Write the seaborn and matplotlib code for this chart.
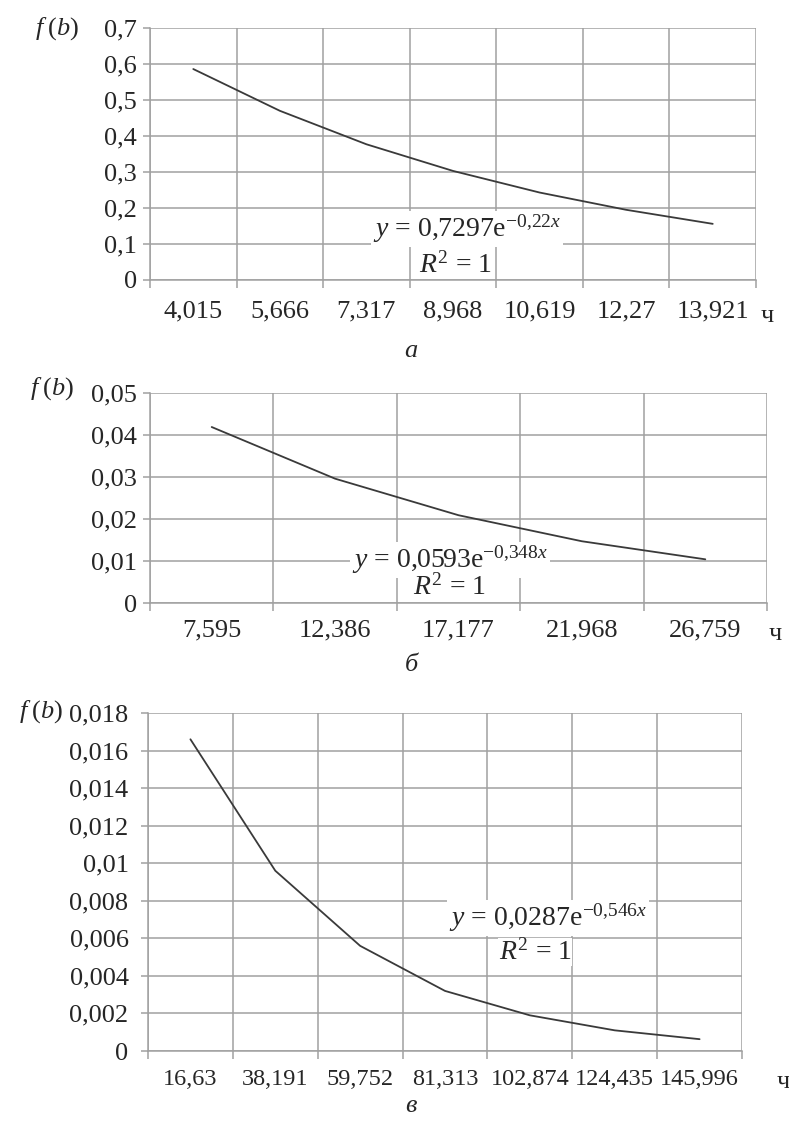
import numpy as np
import pandas as pd
import matplotlib
matplotlib.use("Agg")
import matplotlib.pyplot as plt
import seaborn as sns
from matplotlib.ticker import FixedLocator

# ---------------- data ----------------
a_labels = ["4,015", "5,666", "7,317", "8,968", "10,619", "12,27", "13,921"]
a_values = [0.586, 0.470, 0.377, 0.303, 0.243, 0.195, 0.156]
a_yticks = [0, 0.1, 0.2, 0.3, 0.4, 0.5, 0.6, 0.7]
a_yticklabels = ["0", "0,1", "0,2", "0,3", "0,4", "0,5", "0,6", "0,7"]

b_labels = ["7,595", "12,386", "17,177", "21,968", "26,759"]
b_values = [0.0419, 0.0296, 0.0209, 0.0147, 0.0104]
b_yticks = [0, 0.01, 0.02, 0.03, 0.04, 0.05]
b_yticklabels = ["0", "0,01", "0,02", "0,03", "0,04", "0,05"]

c_labels = ["16,63", "38,191", "59,752", "81,313", "102,874", "124,435", "145,996"]
c_values = [0.0166, 0.0096, 0.0056, 0.0032, 0.0019, 0.0011, 0.00063]
c_yticks = [0, 0.002, 0.004, 0.006, 0.008, 0.010, 0.012, 0.014, 0.016, 0.018]
c_yticklabels = ["0", "0,002", "0,004", "0,006", "0,008", "0,01", "0,012",
                 "0,014", "0,016", "0,018"]

eq_texts = [r"$y$ = 0,7297$\mathrm{e}^{-0{,}22x}$",
            r"$y$ = 0,0593$\mathrm{e}^{-0{,}348x}$",
            r"$y$ = 0,0287$\mathrm{e}^{-0{,}546x}$"]
r2_text = r"$R^{2}$ = 1"
captions = ["а", "б", "в"]
ylabel_text = r"$f\;(b)$"
xunit_text = "ч"

# ---------------- style ----------------
sns.set_theme(style="white")
plt.rcParams['font.family'] = ['Liberation Serif', 'DejaVu Serif']
plt.rcParams['mathtext.fontset'] = 'custom'
plt.rcParams['mathtext.rm'] = 'Liberation Serif'
plt.rcParams['mathtext.it'] = 'Liberation Serif:italic'
plt.rcParams['mathtext.bf'] = 'Liberation Serif:bold'

W, H = 789, 1124
fig = plt.figure(figsize=(W / 100, H / 100), dpi=100)
fig.patch.set_facecolor('white')


def fx(x):
    return x / W


def fy(y):
    return 1 - y / H


GRID = '#a0a0a0'
LINE = '#3a3a3a'
FS = 19
EQFS = 20

panels = [
    dict(box=(150, 28, 756, 280), labels=a_labels, values=a_values,
         yticks=a_yticks, ylabels=a_yticklabels, xpad=15, ypad=4.5,
         xfs=FS, fb=(57, 29), eq=(467, 229), r2=(455, 265),
         unit=(767, 322), cap=(411, 351)),
    dict(box=(150, 393, 767, 603), labels=b_labels, values=b_values,
         yticks=b_yticks, ylabels=b_yticklabels, xpad=12, ypad=4.5,
         xfs=FS, fb=(52, 389), eq=(450, 560), r2=(449, 587),
         unit=(775, 640), cap=(411, 665)),
    dict(box=(148, 713, 742, 1051), labels=c_labels, values=c_values,
         yticks=c_yticks, ylabels=c_yticklabels, xpad=13, ypad=9,
         xfs=17.5, fb=(41, 712), eq=(548, 918), r2=(535, 952),
         unit=(783, 1088), cap=(411, 1106)),
]

for i, p in enumerate(panels):
    l, t, r, b = p['box']
    ax = fig.add_axes([fx(l), fy(b), (r - l) / W, (b - t) / H])
    n = len(p['labels'])
    df = pd.DataFrame({'t': p['labels'], 'f': p['values']})
    sns.lineplot(data=df, x='t', y='f', ax=ax, color=LINE, lw=1.3,
                 sort=False, zorder=4)
    ax.set_xlim(-0.5, n - 0.5)
    ax.set_ylim(p['yticks'][0], p['yticks'][-1])
    ax.set_xticks(range(n))
    ax.set_xticklabels(p['labels'])
    ax.xaxis.set_minor_locator(FixedLocator(np.arange(n + 1) - 0.5))
    ax.tick_params(axis='x', which='major', length=0, pad=p['xpad'],
                   labelsize=p['xfs'], bottom=True)
    ax.tick_params(axis='x', which='minor', length=6, width=1.1,
                   color=GRID, direction='out', bottom=True)
    ax.set_yticks(p['yticks'])
    ax.set_yticklabels(p['ylabels'])
    ax.tick_params(axis='y', length=5, width=1.1, color=GRID,
                   direction='out', pad=p['ypad'], labelsize=FS, left=True)
    ax.grid(False)
    ax.grid(True, axis='y', which='major', color=GRID, lw=1.1)
    ax.grid(True, axis='x', which='minor', color=GRID, lw=1.1)
    ax.set_axisbelow(True)
    for side in ['left', 'bottom']:
        ax.spines[side].set_color(GRID)
        ax.spines[side].set_linewidth(1.1)
    for side in ['top', 'right']:
        ax.spines[side].set_visible(False)
    ax.set_xlabel('')
    ax.set_ylabel('')
    if ax.get_legend() is not None:
        ax.get_legend().remove()

    fig.text(fx(p['fb'][0]), fy(p['fb'][1]), ylabel_text, ha='center',
             va='center', fontsize=FS)
    fig.text(fx(p['eq'][0]), fy(p['eq'][1]), eq_texts[i], ha='center',
             va='center', fontsize=EQFS, zorder=6,
             bbox=dict(facecolor='white', edgecolor='none', pad=1.5))
    fig.text(fx(p['r2'][0]), fy(p['r2'][1]), r2_text, ha='center',
             va='center', fontsize=EQFS, zorder=6,
             bbox=dict(facecolor='white', edgecolor='none', pad=0.5))
    fig.text(fx(p['unit'][0]), fy(p['unit'][1]), xunit_text, ha='center',
             va='baseline', fontsize=FS)
    fig.text(fx(p['cap'][0]), fy(p['cap'][1]), captions[i], ha='center',
             va='center', fontsize=FS, style='italic')

fig.savefig('out.png', dpi=100, facecolor='white')
